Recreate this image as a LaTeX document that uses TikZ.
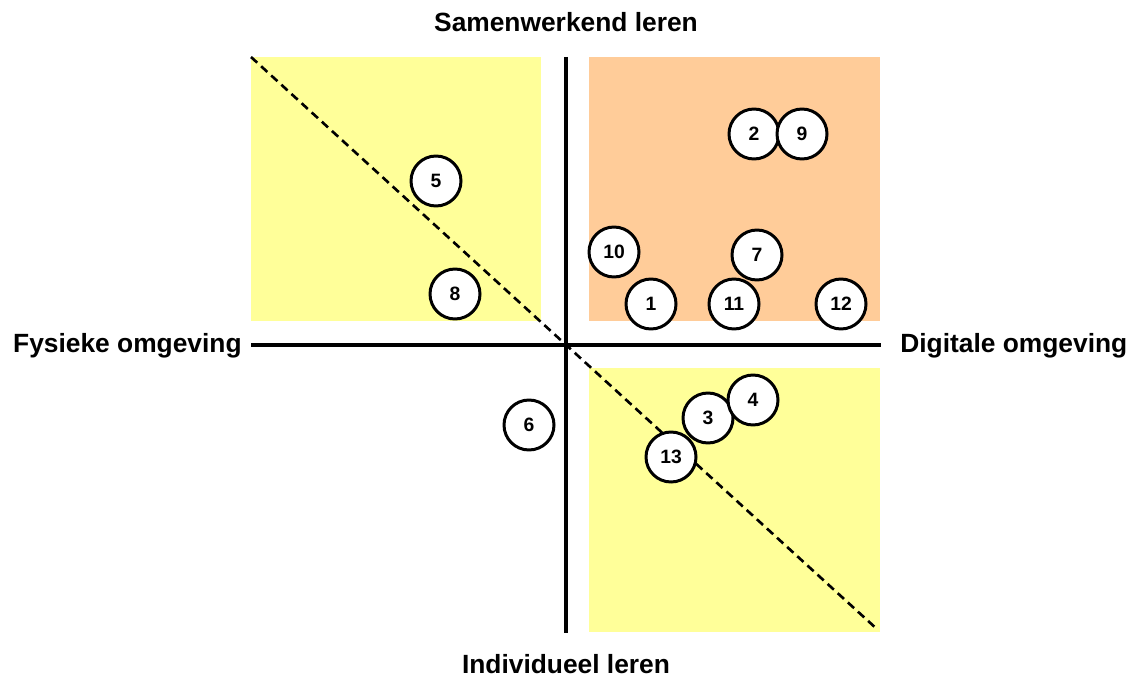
\documentclass[tikz,border=0pt]{standalone}
\usepackage{fontspec}
\setmainfont{Liberation Sans}
\usepackage{tikz}
\definecolor{lichtgeel}{HTML}{FFFF99}
\definecolor{lichtoranje}{HTML}{FFCC99}
\tikzset{
  nummer/.style = {circle, draw, line width=1.7pt, fill=white,
                   minimum size=1cm, inner sep=0pt, font=\bfseries\fontsize{11}{13}\selectfont},
  as/.style = {line width=2.1pt},
  aslabel/.style = {font=\bfseries\fontsize{15}{18}\selectfont, inner sep=0pt}
}
\begin{document}
\begin{tikzpicture}[x = .02cm, y = -.02cm]
        \useasboundingbox (0,0) rectangle (1146,679);
        \fill[lichtgeel]   (251,57)  rectangle (541,321);
        \fill[lichtoranje] (589,57)  rectangle (880,321);
        \fill[lichtgeel]   (589,368) rectangle (880,632);

        \coordinate (diagA) at (251,57);
        \coordinate (diagB) at (878,630);
        \draw[line width=1.5pt, dash pattern=on 4.8pt off 3pt] (diagA) -- (diagB);

        \coordinate (boven) at (566,57);
        \coordinate (onder) at (566,633);
        \coordinate (links) at (251,345);
        \coordinate (rechts) at (881,345);
        \draw[as] (boven) -- (onder);
        \draw[as] (links) -- (rechts);

        \node[aslabel] (samen) at (566,22) {Samenwerkend leren};
        \node[aslabel] (indiv) at (566,664) {Individueel leren};
        \node[aslabel, anchor=east] (fysiek) at (242,346) {Fysieke omgeving};
        \node[aslabel, anchor=west] (digitaal) at (900,346) {Digitale omgeving};

        \node[nummer] (n5)  at (436,181) {5};
        \node[nummer] (n8)  at (455,294) {8};
        \node[nummer] (n2)  at (754,134) {2};
        \node[nummer] (n9)  at (802,134) {9};
        \node[nummer] (n10) at (614,252) {10};
        \node[nummer] (n7)  at (757,255) {7};
        \node[nummer] (n1)  at (651,304) {1};
        \node[nummer] (n11) at (734,304) {11};
        \node[nummer] (n12) at (841,304) {12};
        \node[nummer] (n6)  at (529,425) {6};
        \node[nummer] (n3)  at (708,418) {3};
        \node[nummer] (n4)  at (753,400) {4};
        \node[nummer] (n13) at (671,457) {13};
\end{tikzpicture}
\end{document}
